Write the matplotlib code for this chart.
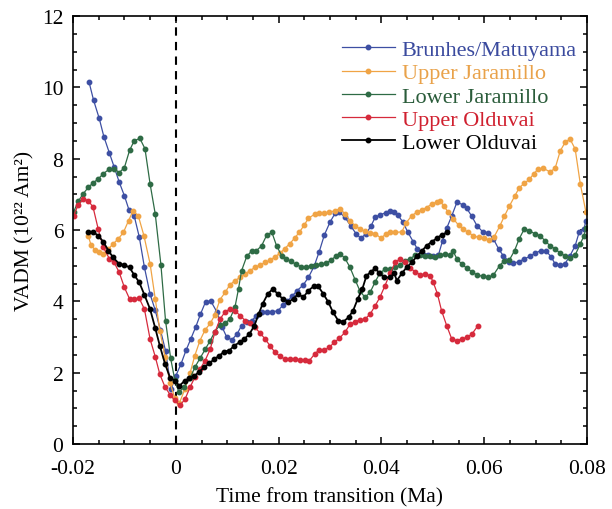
import matplotlib
matplotlib.use('Agg')
import matplotlib.pyplot as plt
from matplotlib.ticker import MultipleLocator, FuncFormatter

# Brunhes/Matuyama
bm_t = [-0.0169, -0.0160, -0.0149, -0.0140, -0.0129, -0.0120, -0.0110, -0.0100, -0.0091, -0.0081,
        -0.0071, -0.0061, -0.0050, -0.0040, -0.0030, -0.0020, -0.0009, 0.0000, 0.0010, 0.0020,
        0.0029, 0.0039, 0.0048, 0.0058, 0.0068, 0.0080, 0.0090, 0.0099, 0.0109, 0.0119,
        0.0128, 0.0138, 0.0148, 0.0157, 0.0167, 0.0177, 0.0187, 0.0199, 0.0209, 0.0217,
        0.0227, 0.0236, 0.0248, 0.0258, 0.0269, 0.0279, 0.0289, 0.0300, 0.0310, 0.0318,
        0.0329, 0.0340, 0.0351, 0.0360, 0.0370, 0.0380, 0.0388, 0.0398, 0.0408, 0.0417,
        0.0425, 0.0432, 0.0442, 0.0451, 0.0462, 0.0470, 0.0482, 0.0491, 0.0501, 0.0511,
        0.0519, 0.0527, 0.0537, 0.0547, 0.0558, 0.0566, 0.0576, 0.0586, 0.0597, 0.0608,
        0.0618, 0.0628, 0.0637, 0.0649, 0.0657, 0.0667, 0.0678, 0.0689, 0.0699, 0.0710,
        0.0720, 0.0730, 0.0738, 0.0748, 0.0757, 0.0767, 0.0777, 0.0785, 0.0794, 0.0798]
bm_v = [10.16, 9.64, 9.13, 8.62, 8.15, 7.77, 7.34, 6.96, 6.56, 6.40,
        5.80, 4.95, 4.20, 3.75, 3.20, 2.62, 1.54, 1.91, 2.24, 2.63,
        2.94, 3.29, 3.64, 3.99, 4.01, 3.70, 3.28, 3.00, 2.92, 3.08,
        3.32, 3.42, 3.46, 3.60, 3.70, 3.70, 3.70, 3.74, 3.90, 4.00,
        4.16, 4.30, 4.46, 4.67, 4.98, 5.39, 5.86, 6.22, 6.47, 6.50,
        6.36, 6.12, 5.89, 5.77, 5.89, 6.12, 6.36, 6.43, 6.48, 6.54,
        6.50, 6.42, 6.22, 5.95, 5.67, 5.47, 5.30, 5.30, 5.28, 5.30,
        5.70, 6.05, 6.40, 6.78, 6.71, 6.61, 6.38, 6.12, 5.95, 5.92,
        5.75, 5.47, 5.28, 5.11, 5.07, 5.11, 5.19, 5.26, 5.35, 5.42,
        5.42, 5.25, 5.05, 5.02, 5.05, 5.28, 5.56, 5.95, 6.03, 6.26]

# Upper Jaramillo
uj_t = [-0.0170, -0.0165, -0.0157, -0.0149, -0.0141, -0.0131, -0.0122, -0.0112, -0.0102, -0.0092,
        -0.0083, -0.0073, -0.0062, -0.0050, -0.0040, -0.0031, -0.0021, -0.0011, -0.0002, 0.0007,
        0.0018, 0.0028, 0.0037, 0.0047, 0.0057, 0.0067, 0.0076, 0.0086, 0.0096, 0.0105,
        0.0115, 0.0125, 0.0135, 0.0144, 0.0154, 0.0164, 0.0174, 0.0183, 0.0193, 0.0203,
        0.0212, 0.0222, 0.0231, 0.0240, 0.0250, 0.0258, 0.0270, 0.0279, 0.0289, 0.0299,
        0.0310, 0.0320, 0.0329, 0.0339, 0.0349, 0.0358, 0.0368, 0.0378, 0.0388, 0.0399,
        0.0409, 0.0417, 0.0427, 0.0440, 0.0448, 0.0459, 0.0469, 0.0479, 0.0488, 0.0498,
        0.0509, 0.0514, 0.0521, 0.0530, 0.0540, 0.0550, 0.0559, 0.0569, 0.0579, 0.0589,
        0.0600, 0.0610, 0.0619, 0.0630, 0.0639, 0.0649, 0.0659, 0.0668, 0.0678, 0.0688,
        0.0696, 0.0705, 0.0715, 0.0728, 0.0738, 0.0748, 0.0758, 0.0767, 0.0777, 0.0787, 0.0798]
uj_v = [5.82, 5.58, 5.44, 5.37, 5.33, 5.47, 5.61, 5.75, 5.93, 6.26,
        6.54, 6.40, 5.84, 5.05, 4.07, 3.18, 2.45, 1.70, 1.30, 1.15,
        1.55, 2.00, 2.48, 2.90, 3.20, 3.38, 3.62, 4.05, 4.25, 4.46,
        4.58, 4.67, 4.77, 4.86, 4.95, 5.02, 5.09, 5.15, 5.25, 5.35,
        5.48, 5.62, 5.77, 5.93, 6.14, 6.33, 6.44, 6.48, 6.47, 6.50,
        6.54, 6.60, 6.45, 6.26, 6.12, 6.03, 5.96, 5.92, 5.90, 5.77,
        5.89, 5.93, 5.93, 5.95, 6.20, 6.40, 6.50, 6.57, 6.63, 6.73,
        6.79, 6.82, 6.68, 6.50, 6.31, 6.14, 6.03, 5.93, 5.84, 5.79,
        5.77, 5.72, 5.80, 6.10, 6.38, 6.67, 6.94, 7.18, 7.31, 7.42,
        7.57, 7.71, 7.73, 7.63, 7.73, 8.22, 8.47, 8.55, 8.27, 7.29, 6.50]

# Lower Jaramillo
lj_t = [-0.0199, -0.0190, -0.0181, -0.0170, -0.0161, -0.0151, -0.0141, -0.0129, -0.0120, -0.0110,
        -0.0100, -0.0090, -0.0081, -0.0070, -0.0060, -0.0050, -0.0040, -0.0029, -0.0020, -0.0010,
        -0.0002, 0.0006, 0.0016, 0.0028, 0.0037, 0.0047, 0.0057, 0.0067, 0.0076, 0.0086,
        0.0096, 0.0105, 0.0115, 0.0122, 0.0128, 0.0138, 0.0148, 0.0157, 0.0167, 0.0177,
        0.0187, 0.0196, 0.0206, 0.0214, 0.0224, 0.0234, 0.0244, 0.0253, 0.0263, 0.0273,
        0.0283, 0.0292, 0.0302, 0.0312, 0.0320, 0.0329, 0.0339, 0.0349, 0.0358, 0.0368,
        0.0378, 0.0388, 0.0397, 0.0407, 0.0417, 0.0427, 0.0436, 0.0446, 0.0456, 0.0466,
        0.0476, 0.0485, 0.0495, 0.0505, 0.0514, 0.0524, 0.0534, 0.0539, 0.0547, 0.0556,
        0.0566, 0.0576, 0.0586, 0.0597, 0.0608, 0.0618, 0.0630, 0.0639, 0.0649, 0.0659,
        0.0668, 0.0678, 0.0688, 0.0699, 0.0709, 0.0718, 0.0728, 0.0738, 0.0748, 0.0757,
        0.0767, 0.0777, 0.0787, 0.0794, 0.0798]
lj_v = [6.50, 6.80, 7.00, 7.20, 7.32, 7.43, 7.58, 7.71, 7.72, 7.61,
        7.75, 8.23, 8.50, 8.57, 8.28, 7.29, 6.45, 5.03, 3.46, 2.40,
        1.80, 1.45, 1.60, 1.85, 2.15, 2.40, 2.65, 2.90, 3.15, 3.34,
        3.39, 3.50, 3.83, 4.35, 4.86, 5.26, 5.42, 5.42, 5.56, 5.86,
        5.93, 5.56, 5.28, 5.20, 5.12, 5.04, 4.97, 4.95, 5.00, 5.03,
        5.04, 5.07, 5.15, 5.28, 5.33, 5.21, 4.95, 4.60, 4.30, 4.11,
        4.25, 4.55, 4.79, 4.90, 4.92, 4.95, 5.02, 5.14, 5.19, 5.30,
        5.30, 5.28, 5.26, 5.23, 5.30, 5.33, 5.30, 5.42, 5.19, 5.05,
        4.93, 4.83, 4.74, 4.70, 4.67, 4.74, 5.00, 5.14, 5.16, 5.42,
        5.75, 6.03, 5.98, 5.89, 5.84, 5.70, 5.56, 5.47, 5.35, 5.28,
        5.21, 5.30, 5.61, 5.84, 6.05]

# Upper Olduvai
uo_t = [-0.0199, -0.0190, -0.0180, -0.0170, -0.0161, -0.0151, -0.0141, -0.0129, -0.0120, -0.0110,
        -0.0100, -0.0090, -0.0081, -0.0071, -0.0061, -0.0050, -0.0040, -0.0031, -0.0021, -0.0011,
        -0.0002, 0.0008, 0.0018, 0.0028, 0.0037, 0.0047, 0.0057, 0.0067, 0.0076, 0.0086,
        0.0096, 0.0105, 0.0115, 0.0125, 0.0135, 0.0144, 0.0154, 0.0164, 0.0174, 0.0183,
        0.0193, 0.0203, 0.0212, 0.0222, 0.0232, 0.0242, 0.0251, 0.0260, 0.0270, 0.0279,
        0.0289, 0.0299, 0.0308, 0.0318, 0.0329, 0.0339, 0.0349, 0.0358, 0.0368, 0.0378,
        0.0388, 0.0397, 0.0407, 0.0417, 0.0427, 0.0436, 0.0446, 0.0456, 0.0466, 0.0476,
        0.0485, 0.0495, 0.0501, 0.0509, 0.0517, 0.0527, 0.0537, 0.0547, 0.0556, 0.0566,
        0.0576, 0.0588]
uo_v = [6.40, 6.70, 6.87, 6.82, 6.64, 6.03, 5.51, 5.19, 5.09, 4.81,
        4.39, 4.07, 4.07, 4.08, 3.78, 2.94, 2.45, 1.95, 1.60, 1.38,
        1.22, 1.08, 1.26, 1.60, 1.87, 2.10, 2.34, 2.66, 3.13, 3.50,
        3.71, 3.78, 3.74, 3.60, 3.46, 3.39, 3.27, 3.11, 2.94, 2.76,
        2.57, 2.46, 2.38, 2.38, 2.38, 2.36, 2.36, 2.34, 2.52, 2.64,
        2.64, 2.71, 2.85, 2.96, 3.13, 3.36, 3.43, 3.48, 3.50, 3.64,
        3.88, 4.11, 4.44, 4.79, 5.09, 5.19, 5.09, 4.93, 4.83, 4.74,
        4.77, 4.72, 4.53, 4.21, 3.74, 3.32, 2.94, 2.90, 2.94, 2.99,
        3.08, 3.32]

# Lower Olduvai
lo_t = [-0.0170, -0.0161, -0.0151, -0.0141, -0.0131, -0.0122, -0.0110, -0.0100, -0.0090, -0.0081,
        -0.0071, -0.0061, -0.0050, -0.0040, -0.0031, -0.0021, -0.0011, -0.0002, 0.0007, 0.0017,
        0.0026, 0.0036, 0.0046, 0.0055, 0.0065, 0.0075, 0.0085, 0.0094, 0.0104, 0.0114,
        0.0124, 0.0133, 0.0143, 0.0153, 0.0161, 0.0169, 0.0179, 0.0189, 0.0198, 0.0208,
        0.0219, 0.0229, 0.0238, 0.0248, 0.0258, 0.0268, 0.0277, 0.0287, 0.0297, 0.0306,
        0.0316, 0.0326, 0.0336, 0.0345, 0.0354, 0.0363, 0.0371, 0.0380, 0.0388, 0.0396,
        0.0406, 0.0417, 0.0425, 0.0430, 0.0440, 0.0449, 0.0459, 0.0469, 0.0479, 0.0488,
        0.0498, 0.0508, 0.0517, 0.0528]
lo_v = [5.95, 5.95, 5.84, 5.67, 5.42, 5.23, 5.05, 5.02, 4.95, 4.74,
        4.53, 4.18, 3.78, 3.25, 2.75, 2.25, 1.85, 1.78, 1.63, 1.77,
        1.84, 1.91, 2.03, 2.15, 2.26, 2.38, 2.48, 2.59, 2.62, 2.76,
        2.85, 2.94, 3.08, 3.32, 3.64, 3.93, 4.21, 4.35, 4.21, 4.07,
        3.99, 4.07, 4.21, 4.11, 4.30, 4.42, 4.42, 4.21, 3.97, 3.69,
        3.46, 3.43, 3.55, 3.74, 4.07, 4.35, 4.72, 4.83, 4.93, 4.79,
        4.67, 4.67, 4.79, 4.58, 4.79, 4.95, 5.09, 5.26, 5.42, 5.56,
        5.67, 5.77, 5.86, 5.93]

labels = ['Brunhes/Matuyama', 'Upper Jaramillo', 'Lower Jaramillo', 'Upper Olduvai', 'Lower Olduvai']
colors = ['#3d4fa3', '#f0a445', '#2e6b45', '#d62a3c', '#000000']
text_colors = ['#3a4a9e', '#e9a24a', '#2a5c3a', '#d0202f', '#000000']
series = [(bm_t, bm_v), (uj_t, uj_v), (lj_t, lj_v), (uo_t, uo_v), (lo_t, lo_v)]

plt.rcParams['font.family'] = ['Liberation Serif', 'DejaVu Serif']
plt.rcParams['axes.unicode_minus'] = False
plt.rcParams['font.size'] = 15.5

fig = plt.figure(figsize=(6.12, 5.10), dpi=100)
ax = fig.add_axes([73 / 612, 65 / 510, 514 / 612, 428 / 510])

for (t, v), lab, c in zip(series, labels, colors):
    lw = 1.3 if c == '#000000' else 0.9
    ax.plot(t, v, '-', color=c, lw=lw, marker='o', ms=3.2, mec=c, mfc=c, label=lab)

ax.axvline(0, color='black', lw=1.5, ls=(0, (4, 3)), zorder=0)

ax.set_xlim(-0.02, 0.08)
ax.set_ylim(0, 12)
ax.xaxis.set_major_locator(MultipleLocator(0.02))
ax.xaxis.set_minor_locator(MultipleLocator(0.005))
ax.yaxis.set_major_locator(MultipleLocator(2))
ax.yaxis.set_minor_locator(MultipleLocator(0.5))
ax.xaxis.set_major_formatter(FuncFormatter(lambda v, p: '0' if abs(v) < 1e-9 else '%.2f' % v))
ax.tick_params(which='both', direction='in', top=True, right=True, width=1.1)
ax.tick_params(which='major', length=5)
ax.tick_params(which='minor', length=3)
ax.tick_params(axis='x', which='major', pad=11)
ax.tick_params(axis='y', which='major', pad=7)
for s in ax.spines.values():
    s.set_linewidth(1.2)

ax.set_xlabel('Time from transition (Ma)', labelpad=6)
ax.set_ylabel('VADM (10²² Am²)', labelpad=5)

leg = ax.legend(loc='upper right', bbox_to_anchor=(0.98, 0.945), frameon=False,
                handlelength=2.4, handletextpad=0.3, labelspacing=0.12,
                borderpad=0, borderaxespad=0, numpoints=1, fontsize=16)
for txt, tc in zip(leg.get_texts(), text_colors):
    txt.set_color(tc)

fig.savefig('out.png', dpi=100)
